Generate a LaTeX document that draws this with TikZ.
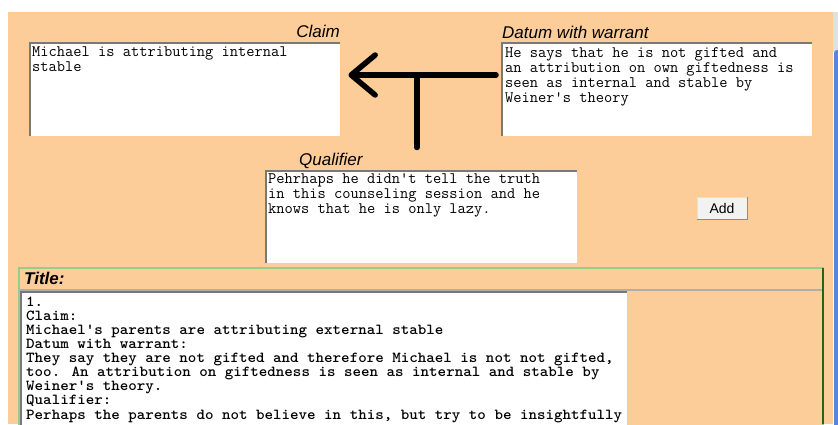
\documentclass[tikz,border=0pt]{standalone}
\usepackage{fontspec}
\usepackage{tikz}
\usetikzlibrary{arrows.meta}
\usetikzlibrary{positioning}
\setsansfont{Liberation Sans}
\definecolor{peach}{RGB}{252,204,153}
\definecolor{insetgray}{RGB}{120,120,120}
\definecolor{panelgreen}{RGB}{150,205,140}
\definecolor{darkgreen}{RGB}{40,100,20}
\definecolor{winblue}{RGB}{85,135,225}
\definecolor{btngray}{RGB}{242,242,240}

\tikzset{
  field/.style={fill=white, anchor=north west, inner sep=0pt},
  inset/.style={insetgray, line width=1.6pt},
  fieldtext/.style={anchor=north west, inner sep=0pt, align=left,
    font=\fontsize{16}{15}\selectfont\ttfamily},
  caption/.style={inner sep=0pt, font=\fontsize{17}{17}\selectfont\sffamily\itshape},
  button/.style={fill=btngray, draw=black!12, inner sep=0pt, minimum width=50pt,
    minimum height=22pt, font=\fontsize{14}{14}\selectfont\sffamily},
  hand/.style={line width=5.5pt, line cap=round, line join=round},
}

\begin{document}
\begin{tikzpicture}[x=1pt, y=-1pt]
  \useasboundingbox (0,0) rectangle (838,424);
  % window
  \fill[peach] (8,12) rectangle (833,424);
  \fill[black!12] (833,12) rectangle (838,52);
  \fill[winblue, rounded corners=3pt] (834,50) rectangle (845,440);

  % input fields
  \node[field, minimum width=310pt, minimum height=93pt] (claim) at (30,43) {};
  \node[field, minimum width=310pt, minimum height=93pt] (datum) at (502,43) {};
  \node[field, minimum width=311pt, minimum height=92pt] (qual) at (266,171) {};

  % title panel
  \draw[panelgreen, line width=1.5pt, fill=peach] (19,268) rectangle (823,440);
  \draw[darkgreen, line width=1.5pt] (823,268) -- (823,424);
  \draw[insetgray!60, line width=1.5pt] (20,290) -- (822,290);
  \node[field, minimum width=606pt, minimum height=140pt] (summary) at (21,292) {};

  \foreach \f in {claim,datum,qual,summary}
    \draw[inset] (\f.south west) -- (\f.north west) -- (\f.north east);

  % captions
  \node[caption, anchor=base east] (claimlbl) at (340,37) {Claim};
  \node[caption, anchor=base west] (datumlbl) at (502,38) {Datum with warrant};
  \node[caption, anchor=base west] (quallbl) at (299,165) {Qualifier};
  \node[caption, font=\fontsize{17}{17}\selectfont\sffamily\bfseries\itshape,
    anchor=base west] (titlelbl) at (24,284) {Title:};

  % field contents
  \node[fieldtext] (claimtext) at ([xshift=2pt,yshift=-4pt]claim.north west)
    {Michael is attributing internal\\stable};
  \node[fieldtext] (datumtext) at ([xshift=3pt,yshift=-4pt]datum.north west)
    {He says that he is not gifted and\\an attribution on own giftedness is\\seen as internal and stable by\\Weiner's theory};
  \node[fieldtext] (qualtext) at ([xshift=2pt,yshift=-2pt]qual.north west)
    {Pehrhaps he didn't tell the truth\\in this counseling session and he\\knows that he is only lazy.};
  \node[fieldtext, xscale=1.06, font=\fontsize{15.3}{14.1}\selectfont\ttfamily\bfseries] (summarytext)
    at ([xshift=5pt,yshift=-4.5pt]summary.north west)
    {1.\\Claim:\\Michael's parents are attributing external stable\\Datum with warrant:\\They say they are not gifted and therefore Michael is not not gifted,\\too. An attribution on giftedness is seen as internal and stable by\\Weiner's theory.\\Qualifier:\\Perhaps the parents do not believe in this, but try to be insightfully};

  % button
  \node[button] (add) at (722,208) {Add};
  \draw[black!45, line width=1.2pt] (add.north east) -- (add.south east) -- (add.south west);

  % hand drawn arrow
  \coordinate (tjoin) at (417,75);
  \draw[hand, -{Straight Barb[length=24pt, width=40pt, round]}]
    ([xshift=-6pt]datum.west |- tjoin) -- ([xshift=8pt]claim.east |- tjoin);
  \draw[hand] (tjoin) -- ([yshift=5pt]tjoin |- quallbl.north);
\end{tikzpicture}
\end{document}
